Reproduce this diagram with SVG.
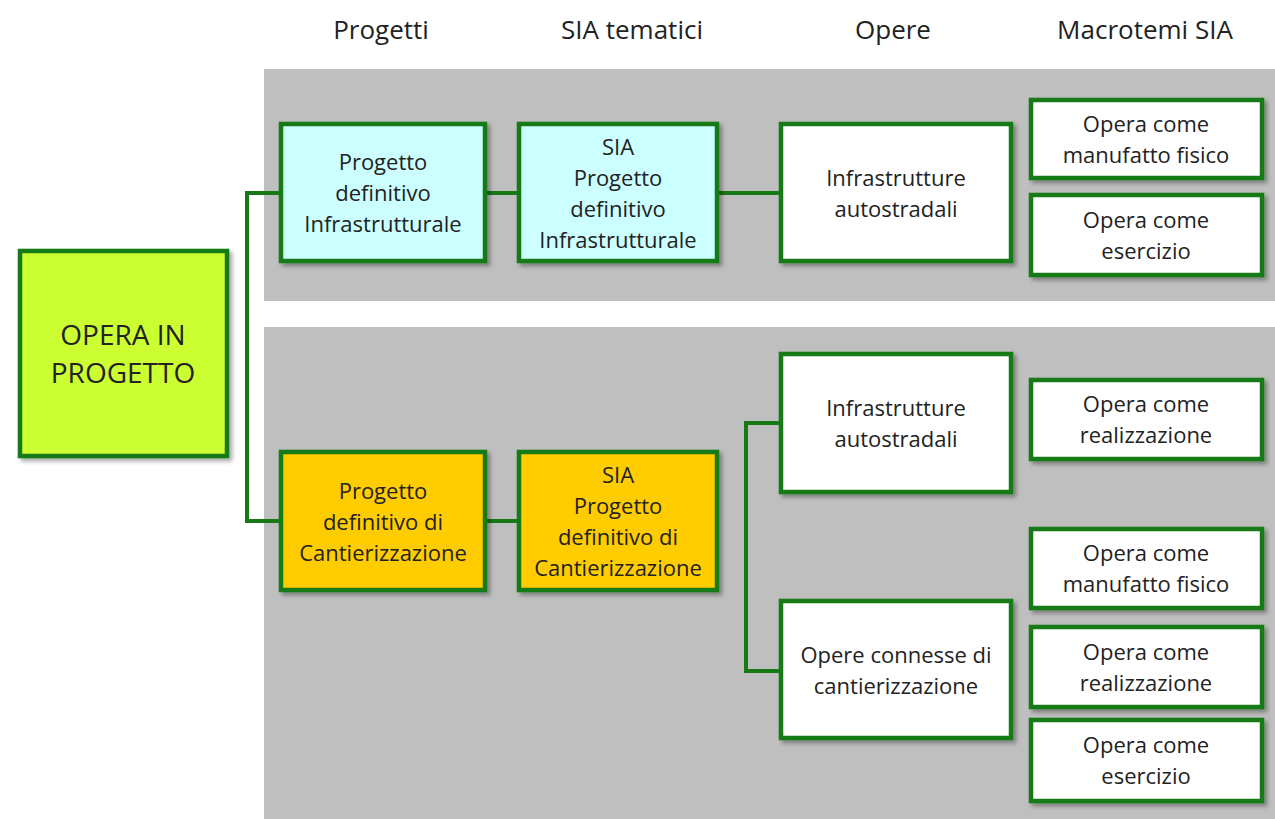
<svg xmlns="http://www.w3.org/2000/svg" width="1275" height="819" viewBox="0 0 1275 819">
<defs>
<filter id="sh" x="-10%" y="-10%" width="130%" height="130%">
<feDropShadow dx="3" dy="3" stdDeviation="2" flood-color="#000" flood-opacity="0.35"/>
</filter>
<style>
.panel{fill:#bfbfbf}
.box{stroke:#157a15;stroke-width:4.5;filter:url(#sh)}
.w{fill:#ffffff}
.c{fill:#ccffff}
.o{fill:#ffcc00}
.l{fill:#ccff33}
.t{font-family:"Open Sans","Liberation Sans",sans-serif;font-size:22px;fill:#222222;text-anchor:middle}
.h{font-family:"Open Sans","Liberation Sans",sans-serif;font-size:26px;fill:#222222;text-anchor:middle}
.big{font-size:28px}
.conn{fill:none;stroke:#157a15;stroke-width:4}
</style>
</defs>
<rect width="1275" height="819" fill="#ffffff"/>
<rect class="panel" x="264" y="69" width="1011" height="232"/>
<rect class="panel" x="264" y="327" width="1011" height="492"/>

<g id="headers">
<text class="h" x="381" y="39">Progetti</text>
<text class="h" x="632" y="39">SIA tematici</text>
<text class="h" x="893" y="39">Opere</text>
<text class="h" x="1145" y="39">Macrotemi SIA</text>
</g>

<g id="connectors">
<path class="conn" d="M279,193 H247 V521 H279"/>
<path class="conn" d="M487,193 H517"/>
<path class="conn" d="M719,193 H779"/>
<path class="conn" d="M487,521 H517"/>
<path class="conn" d="M779,423 H746 V671 H779"/>
</g>

<g id="opera">
<rect class="box l" x="20" y="251" width="207" height="205"/>
<text class="t big" x="123" y="345">OPERA IN</text>
<text class="t big" x="123" y="383">PROGETTO</text>
</g>

<g id="pd-infra">
<rect class="box c" x="281" y="124" width="204" height="137"/>
<text class="t" x="383" y="170">Progetto</text>
<text class="t" x="383" y="201">definitivo</text>
<text class="t" x="383" y="232">Infrastrutturale</text>
</g>

<g id="sia-infra">
<rect class="box c" x="519" y="124" width="198" height="137"/>
<text class="t" x="618" y="155">SIA</text>
<text class="t" x="618" y="186">Progetto</text>
<text class="t" x="618" y="217">definitivo</text>
<text class="t" x="618" y="248">Infrastrutturale</text>
</g>

<g id="infra-top">
<rect class="box w" x="781" y="124" width="230" height="137"/>
<text class="t" x="896" y="186">Infrastrutture</text>
<text class="t" x="896" y="217">autostradali</text>
</g>

<g id="m-manufatto-top">
<rect class="box w" x="1031" y="100" width="231" height="78"/>
<text class="t" x="1146" y="132">Opera come</text>
<text class="t" x="1146" y="163">manufatto fisico</text>
</g>

<g id="m-esercizio-top">
<rect class="box w" x="1031" y="195" width="231" height="80"/>
<text class="t" x="1146" y="228">Opera come</text>
<text class="t" x="1146" y="259">esercizio</text>
</g>

<g id="pd-cant">
<rect class="box o" x="281" y="452" width="204" height="138"/>
<text class="t" x="383" y="499">Progetto</text>
<text class="t" x="383" y="530">definitivo di</text>
<text class="t" x="383" y="561">Cantierizzazione</text>
</g>

<g id="sia-cant">
<rect class="box o" x="519" y="452" width="198" height="138"/>
<text class="t" x="618" y="483">SIA</text>
<text class="t" x="618" y="514">Progetto</text>
<text class="t" x="618" y="545">definitivo di</text>
<text class="t" x="618" y="576">Cantierizzazione</text>
</g>

<g id="infra-bottom">
<rect class="box w" x="781" y="354" width="230" height="138"/>
<text class="t" x="896" y="416">Infrastrutture</text>
<text class="t" x="896" y="447">autostradali</text>
</g>

<g id="opere-connesse">
<rect class="box w" x="781" y="601" width="230" height="137"/>
<text class="t" x="896" y="663">Opere connesse di</text>
<text class="t" x="896" y="694">cantierizzazione</text>
</g>

<g id="m-realizzazione-1">
<rect class="box w" x="1031" y="380" width="231" height="79"/>
<text class="t" x="1146" y="412">Opera come</text>
<text class="t" x="1146" y="443">realizzazione</text>
</g>

<g id="m-manufatto-bottom">
<rect class="box w" x="1031" y="529" width="231" height="79"/>
<text class="t" x="1146" y="561">Opera come</text>
<text class="t" x="1146" y="592">manufatto fisico</text>
</g>

<g id="m-realizzazione-2">
<rect class="box w" x="1031" y="627" width="231" height="80"/>
<text class="t" x="1146" y="660">Opera come</text>
<text class="t" x="1146" y="691">realizzazione</text>
</g>

<g id="m-esercizio-bottom">
<rect class="box w" x="1031" y="720" width="231" height="81"/>
<text class="t" x="1146" y="753">Opera come</text>
<text class="t" x="1146" y="784">esercizio</text>
</g>
</svg>
